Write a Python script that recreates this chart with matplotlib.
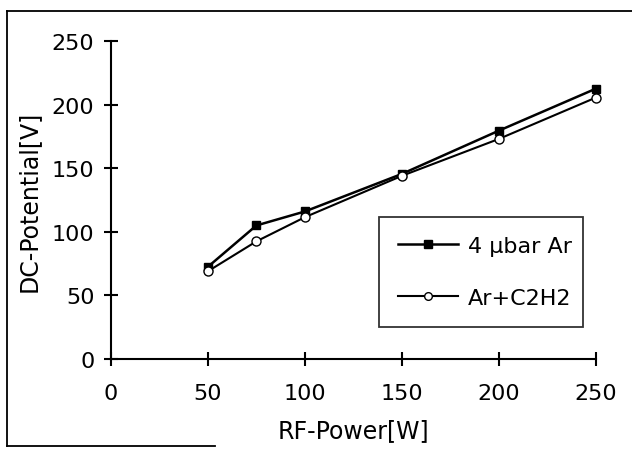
import matplotlib.pyplot as plt
from matplotlib.lines import Line2D

plt.rcParams["font.family"] = ["DejaVu Sans"]

rf_power = [50, 75, 100, 150, 200, 250]
dc_ar = [72.5, 105, 116, 145.5, 179.5, 212.5]
dc_ar_c2h2 = [69, 92.5, 111.5, 144, 173, 205.5]
label_ar = "4 µbar Ar"
label_mix = "Ar+C2H2"

fig = plt.figure(figsize=(6.32, 4.52), dpi=100)
ax = fig.add_axes([0.1756, 0.2035, 0.767, 0.7035])

ax.plot(rf_power, dc_ar, color="black", lw=1.8, marker="s", ms=6,
        mfc="black", mec="black", label=label_ar, clip_on=False, zorder=3)
ax.plot(rf_power, dc_ar_c2h2, color="black", lw=1.5, marker="o", ms=6.5,
        mfc="white", mec="black", mew=1.0, label=label_mix, clip_on=False, zorder=3)

ax.set_xlim(0, 250)
ax.set_ylim(0, 250)
ax.set_xticks(range(0, 251, 50))
ax.set_yticks(range(0, 251, 50))
ax.spines["top"].set_visible(False)
ax.spines["right"].set_visible(False)
for s in ("left", "bottom"):
    ax.spines[s].set_linewidth(1.5)
ax.tick_params(direction="inout", length=10, width=1.5, labelsize=16)
ax.tick_params(axis="x", pad=12)
ax.tick_params(axis="y", pad=7)

ax.set_xlabel("RF-Power[W]", fontsize=17, labelpad=11)
ax.set_ylabel("DC-Potential[V]", fontsize=17, labelpad=8)

leg = ax.legend(loc="lower left", bbox_to_anchor=(0.553, 0.101, 0.421, 0.34),
                mode="expand", borderaxespad=0, fontsize=16, frameon=True,
                fancybox=False, edgecolor="black", handlelength=2.7,
                handletextpad=0.45, labelspacing=1.45, borderpad=0.85,
                markerscale=0.85)
leg.get_frame().set_linewidth(1.3)

# outer frame round the picture (right edge falls off the scan)
frame = dict(color="black", lw=1.3, transform=fig.transFigure)
fig.add_artist(Line2D([0.011, 1.0], [0.974, 0.974], **frame))
fig.add_artist(Line2D([0.011, 0.011], [0.011, 0.974], **frame))
fig.add_artist(Line2D([0.011, 0.34], [0.011, 0.011], **frame))

fig.savefig("out.png", dpi=100)
